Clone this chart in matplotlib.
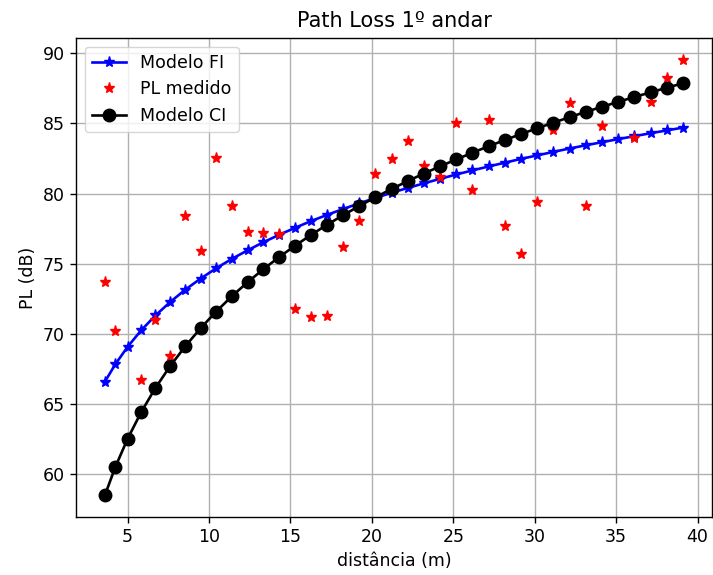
import matplotlib
matplotlib.use("Agg")
import matplotlib.pyplot as plt

distancia = [3.606, 4.243, 5.000, 5.831, 6.708, 7.616, 8.544, 9.487, 10.440, 11.402,
             12.369, 13.342, 14.318, 15.297, 16.279, 17.263, 18.248, 19.235, 20.224, 21.213,
             22.204, 23.195, 24.187, 25.179, 26.173, 27.166, 28.160, 29.155, 30.150, 31.145,
             32.140, 33.136, 34.132, 35.128, 36.125, 37.121, 38.118, 39.115]

modelo_fi = [66.61, 67.84, 69.09, 70.26, 71.32, 72.28, 73.16, 73.95, 74.68, 75.35,
             75.96, 76.54, 77.07, 77.57, 78.05, 78.49, 78.91, 79.31, 79.69, 80.06,
             80.40, 80.73, 81.05, 81.36, 81.65, 81.93, 82.20, 82.47, 82.72, 82.97,
             83.21, 83.44, 83.66, 83.88, 84.09, 84.30, 84.50, 84.70]

pl_medido = [73.7, 70.2, 62.4, 66.7, 71.0, 68.4, 78.4, 75.9, 82.5, 79.1,
             77.3, 77.2, 77.1, 71.75, 71.2, 71.3, 76.2, 78.05, 81.4, 82.45,
             83.75, 81.97, 81.2, 85.06, 80.26, 85.25, 77.7, 75.67, 79.4, 84.5,
             86.44, 79.12, 84.78, 86.4, 83.94, 86.49, 88.2, 89.53]

modelo_ci = [58.52, 60.52, 62.54, 64.43, 66.16, 67.72, 69.13, 70.42, 71.60, 72.69,
             73.69, 74.62, 75.49, 76.30, 77.07, 77.79, 78.47, 79.12, 79.74, 80.33,
             80.89, 81.43, 81.94, 82.43, 82.91, 83.37, 83.81, 84.24, 84.65, 85.05,
             85.44, 85.82, 86.18, 86.53, 86.88, 87.21, 87.54, 87.86]

fs = 12.5
fig = plt.figure(figsize=(7.13, 5.75), dpi=100)
ax = fig.add_axes([76/713, 1-517/575, (712-76)/713, (517-38)/575])

ax.plot(distancia, modelo_fi, color='blue', marker='*', markersize=8, linewidth=1.9, label='Modelo FI')
ax.plot(distancia, pl_medido, color='red', marker='*', markersize=8, linestyle='none', label='PL medido')
ax.plot(distancia, modelo_ci, color='black', marker='o', markersize=9, linewidth=1.9, label='Modelo CI')

ax.grid(True, linewidth=1.0)
ax.set_title('Path Loss 1º andar', fontsize=15, pad=8)
ax.set_xlabel('distância (m)', fontsize=fs)
ax.set_ylabel('PL (dB)', fontsize=fs)
ax.tick_params(labelsize=fs, length=4.5, width=1.0)
for s in ax.spines.values():
    s.set_linewidth(1.0)
ax.legend(loc='upper left', fontsize=fs)

fig.savefig('out.png', dpi=100)
